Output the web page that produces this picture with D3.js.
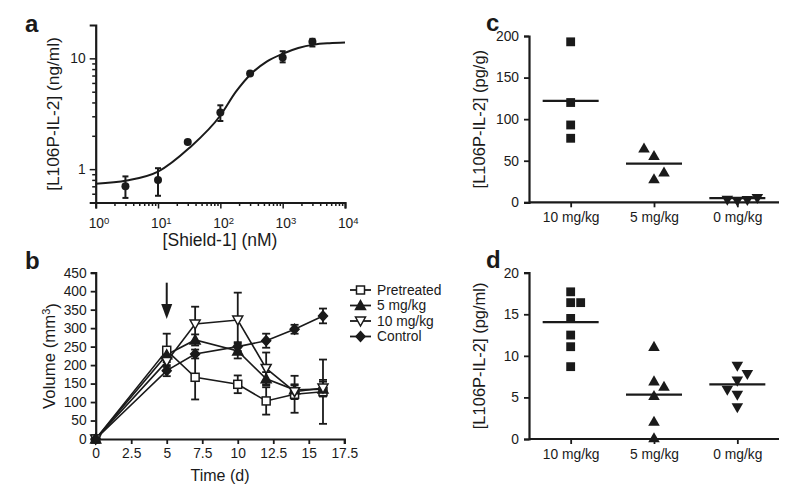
<!DOCTYPE html>
<html><head><meta charset="utf-8">
<script src="https://cdn.jsdelivr.net/npm/d3@7"></script>
<style>
body{margin:0;background:#fff}
text{font-family:"Liberation Sans",Arial,Helvetica,sans-serif;fill:#1a1a1a}
</style>
</head><body><svg id="chart" width="800" height="496"></svg>
<script>
// ---------- Panel a data ----------
const shieldDose = [3, 10, 30, 100, 300, 1000, 3000];
const il2Mean = [0.70, 0.80, 1.76, 3.24, 7.3, 10.2, 14.1];
const il2Low  = [0.55, 0.575, 1.70, 2.72, 7.1, 9.2, 12.8];
const il2High = [0.86, 1.02, 1.82, 3.77, 7.5, 11.6, 15.0];
const fitDose  = [1, 3.16, 10, 31.6, 100, 178, 316, 562, 1000, 1778, 3162, 5623, 10000];
const fitValue = [0.74, 0.79, 0.95, 1.55, 3.05, 5.0, 7.3, 9.4, 11.0, 12.4, 13.3, 13.7, 13.9];
const aXTickValues = [1, 10, 100, 1000, 10000];
const aXTickExp = ["0", "1", "2", "3", "4"];
const aYTickValues = [1, 10];
const aYTickLabels = ["1", "10"];

// ---------- Panel b data ----------
const days = [0, 5, 7, 10, 12, 14, 16];
const seriesNames = ["Pretreated", "5 mg/kg", "10 mg/kg", "Control"];
const pretreated    = [0, 240, 167, 148, 103, 121, 128];
const pretreatedErr = [0, 45, 60, 24, 37, 50, 87];
const mg5           = [0, 228, 268, 238, 163, 133, 135];
const mg5Err        = [0, 20, 15, 20, 18, 12, 20];
const mg10          = [0, 210, 311, 322, 191, 128, 138];
const mg10Err       = [0, 25, 47, 74, 43, 20, 22];
const control       = [0, 185, 230, 250, 266, 297, 333];
const controlErr    = [0, 15, 12, 12, 19, 12, 20];
const bXTicks = [0, 2.5, 5, 7.5, 10, 12.5, 15, 17.5];
const bYTicks = [0, 50, 100, 150, 200, 250, 300, 350, 400, 450];
const arrowDay = 5, arrowFrom = 423, arrowTo = 325;

// ---------- Panel c data ----------
const doseGroups = ["10 mg/kg", "5 mg/kg", "0 mg/kg"];
const tissue10 = [193, 120, 93, 77];
const tissue10Col = [0, 0, 0, 0];
const tissue5 = [64, 55, 35, 27];
const tissue5Col = [-1, 0, 1, 0];
const tissue0 = [4.0, 2.8, 3.6, 6.0];
const tissue0Col = [-1, 0, 1, 2];
const tissueMedian = [122, 46.5, 5];
const cYTicks = [0, 50, 100, 150, 200];

// ---------- Panel d data ----------
const serum10 = [17.7, 16.4, 16.4, 14.5, 12.5, 11.1, 8.7];
const serum10Col = [0, 0, 1, 0, 0, 0, 0];
const serum5 = [11.0, 6.85, 6.2, 5.1, 2.0, 0.0];
const serum5Col = [0, 0, 1, 0, 0, 0];
const serum0 = [8.9, 7.9, 7.1, 6.0, 5.4, 3.9];
const serum0Col = [0, 1, 0, -1, 0, 0];
const serumMedian = [14.05, 5.33, 6.57];
const dYTicks = [0, 5, 10, 15, 20];

// ---------- helpers ----------
const svg = d3.select("#chart");
const INK = "#1a1a1a";
const TICK_FS = 13.8, TITLE_FS = 16.5;

function styleAxis(g, tickW) {
  g.select(".domain").attr("stroke", INK).attr("stroke-width", 2.2);
  g.selectAll(".tick line").attr("stroke", INK).attr("stroke-width", tickW || 1.8);
  g.selectAll(".tick text").attr("fill", INK).style("font-size", TICK_FS + "px")
    .style("font-family", '"Liberation Sans",Arial,sans-serif');
}
function letter(t, x, y) {
  svg.append("text").attr("x", x).attr("y", y).text(t)
    .style("font-size", "24px").style("font-weight", "bold");
}
function yTitle(t, x, y, fs) {
  return svg.append("text").attr("transform", `translate(${x},${y}) rotate(-90)`)
    .attr("text-anchor", "middle").style("font-size", (fs || TITLE_FS) + "px").text(t);
}
function xTitle(t, x, y, fs) {
  return svg.append("text").attr("x", x).attr("y", y)
    .attr("text-anchor", "middle").style("font-size", (fs || TITLE_FS) + "px").text(t);
}

// ================= Panel a =================
{
  const x = d3.scaleLog().domain([1, 1e4]).range([95.7, 345]);
  const y = d3.scaleLog().domain([0.5, 20]).range([202.5, 25]);
  const xMinor = [];
  for (let e = 0; e < 4; e++) for (let k = 2; k <= 9; k++) xMinor.push(k * Math.pow(10, e));
  const yMinor = [0.6, 0.7, 0.8, 0.9, 2, 3, 4, 5, 6, 7, 8, 9];

  const gx = svg.append("g").attr("transform", `translate(0,${y(0.5)})`)
    .call(d3.axisBottom(x).tickValues(aXTickValues.concat(xMinor)).tickSizeOuter(0)
      .tickSize(6).tickPadding(5).tickFormat(() => ""));
  styleAxis(gx, 1.5);
  gx.selectAll(".tick").filter(d => !aXTickValues.includes(d)).select("line").attr("y2", 3.5);
  gx.selectAll(".tick").filter(d => aXTickValues.includes(d)).select("text").each(function (d) {
    const t = d3.select(this);
    const i = aXTickValues.indexOf(d);
    t.text(null).attr("dy", "1.05em").attr("dx", "0.2em");
    t.append("tspan").text("10");
    t.append("tspan").attr("dy", "-0.45em").style("font-size", "9.5px").text(aXTickExp[i]);
  });

  const gy = svg.append("g").attr("transform", `translate(${x(1)},0)`)
    .call(d3.axisLeft(y).tickValues(aYTickValues.concat(yMinor)).tickSizeOuter(0)
      .tickSize(6).tickPadding(4)
      .tickFormat(d => aYTickValues.includes(d) ? aYTickLabels[aYTickValues.indexOf(d)] : ""));
  styleAxis(gy, 1.5);
  gy.selectAll(".tick").filter(d => !aYTickValues.includes(d)).select("line").attr("x2", -3.5);

  const fit = fitDose.map((d, i) => [d, fitValue[i]]);
  svg.append("path").datum(fit)
    .attr("d", d3.line().x(d => x(d[0])).y(d => y(d[1])).curve(d3.curveMonotoneX))
    .attr("fill", "none").attr("stroke", INK).attr("stroke-width", 2);

  const pts = shieldDose.map((d, i) => ({d, m: il2Mean[i], lo: il2Low[i], hi: il2High[i]}));
  const eb = svg.append("g").attr("stroke", INK).attr("stroke-width", 2);
  pts.forEach(p => {
    eb.append("line").attr("x1", x(p.d)).attr("x2", x(p.d)).attr("y1", y(p.lo)).attr("y2", y(p.hi));
    [p.lo, p.hi].forEach(v => eb.append("line").attr("x1", x(p.d) - 3).attr("x2", x(p.d) + 3)
      .attr("y1", y(v)).attr("y2", y(v)));
  });
  svg.append("g").selectAll("circle").data(pts).join("circle")
    .attr("cx", p => x(p.d)).attr("cy", p => y(p.m)).attr("r", 4).attr("fill", INK);

  letter("a", 25, 32);
  xTitle("[Shield-1] (nM)", 220, 246, 17.5);
  yTitle("[L106P-IL-2] (ng/ml)", 59, 114, 17.3);
}

// ================= Panel b =================
{
  const x = d3.scaleLinear().domain([0, 17.5]).range([95.7, 344.3]);
  const y = d3.scaleLinear().domain([0, 450]).range([439, 272.7]);

  const gx = svg.append("g").attr("transform", `translate(0,${y(0)})`)
    .call(d3.axisBottom(x).tickValues(bXTicks).tickSizeOuter(0).tickSize(5).tickPadding(4)
      .tickFormat(d3.format("~g")));
  styleAxis(gx);
  const gy = svg.append("g").attr("transform", `translate(${x(0)},0)`)
    .call(d3.axisLeft(y).tickValues(bYTicks).tickSizeOuter(0).tickSize(5).tickPadding(4));
  styleAxis(gy);

  const series = [
    {name: seriesNames[0], v: pretreated, e: pretreatedErr, sym: "square", open: true},
    {name: seriesNames[1], v: mg5, e: mg5Err, sym: "triUp", open: false},
    {name: seriesNames[2], v: mg10, e: mg10Err, sym: "triDown", open: true},
    {name: seriesNames[3], v: control, e: controlErr, sym: "diamond", open: false}
  ];
  function marker(g, s, cx, cy) {
    let p;
    if (s.sym === "square") p = g.append("rect").attr("x", cx - 4).attr("y", cy - 4).attr("width", 8).attr("height", 8);
    else if (s.sym === "triUp") p = g.append("path").attr("d", `M${cx},${cy - 5}L${cx + 5},${cy + 4}L${cx - 5},${cy + 4}Z`);
    else if (s.sym === "triDown") p = g.append("path").attr("d", `M${cx - 5},${cy - 4}L${cx + 5},${cy - 4}L${cx},${cy + 5}Z`);
    else p = g.append("path").attr("d", `M${cx},${cy - 5}L${cx + 4.5},${cy}L${cx},${cy + 5}L${cx - 4.5},${cy}Z`);
    p.attr("fill", s.open ? "#fff" : INK).attr("stroke", INK).attr("stroke-width", 1.5);
  }
  const line = d3.line().x(d => x(d[0])).y(d => y(d[1]));
  series.forEach(s => {
    svg.append("path").datum(days.map((d, i) => [d, s.v[i]])).attr("d", line)
      .attr("fill", "none").attr("stroke", INK).attr("stroke-width", 1.6);
  });
  series.forEach(s => {
    const g = svg.append("g").attr("stroke", INK).attr("stroke-width", 1.8);
    days.forEach((d, i) => {
      if (!s.e[i]) return;
      const cx = x(d), lo = y(s.v[i] - s.e[i]), hi = y(s.v[i] + s.e[i]);
      g.append("line").attr("x1", cx).attr("x2", cx).attr("y1", lo).attr("y2", hi);
      [lo, hi].forEach(yy => g.append("line").attr("x1", cx - 4).attr("x2", cx + 4).attr("y1", yy).attr("y2", yy));
    });
  });
  series.forEach(s => {
    const g = svg.append("g");
    days.forEach((d, i) => marker(g, s, x(d), y(s.v[i])));
  });

  // arrow
  const ax = x(arrowDay);
  svg.append("line").attr("x1", ax).attr("x2", ax).attr("y1", y(arrowFrom)).attr("y2", y(arrowTo) - 10)
    .attr("stroke", INK).attr("stroke-width", 2);
  svg.append("path").attr("d", `M${ax - 5.5},${y(arrowTo) - 15}L${ax + 5.5},${y(arrowTo) - 15}L${ax},${y(arrowTo)}Z`)
    .attr("fill", INK);

  // legend
  const lg = svg.append("g");
  series.forEach((s, i) => {
    const ly = 290 + i * 15.5;
    lg.append("line").attr("x1", 350).attr("x2", 371).attr("y1", ly).attr("y2", ly)
      .attr("stroke", INK).attr("stroke-width", 1.8);
    marker(lg, s, 360.5, ly);
    lg.append("text").attr("x", 377).attr("y", ly).attr("dy", "0.36em")
      .style("font-size", "13.8px").text(s.name);
  });

  letter("b", 25, 269);
  xTitle("Time (d)", 220, 481, 16);
  const vt = yTitle("", 55, 356, 16.8);
  vt.append("tspan").text("Volume (mm");
  vt.append("tspan").attr("dy", "-0.45em").style("font-size", "11px").text("3");
  vt.append("tspan").attr("dy", "0.45em").text(")");
}

// ================= Panels c & d =================
function dotPanel(cfg) {
  const x = d3.scalePoint().domain(doseGroups).range([529, 779]).padding(0.5);
  const y = d3.scaleLinear().domain(cfg.domain).range(cfg.range);
  const gx = svg.append("g").attr("transform", `translate(0,${cfg.range[0]})`)
    .call(d3.axisBottom(x).tickSizeOuter(0).tickSize(5).tickPadding(5));
  styleAxis(gx);
  gx.select(".domain").attr("d", `M529,0H779`);
  const gy = svg.append("g").attr("transform", `translate(529,0)`)
    .call(d3.axisLeft(y).tickValues(cfg.ticks).tickSizeOuter(0).tickSize(5).tickPadding(5));
  styleAxis(gy);

  const step = 10;
  const syms = [d3.symbolSquare, d3.symbolTriangle, d3.symbolTriangle];
  const sizes = [78, 58, 58];
  cfg.groups.forEach((vals, gi) => {
    const cols = cfg.cols[gi];
    const cx0 = x(doseGroups[gi]);
    svg.append("g").selectAll("path").data(vals).join("path")
      .attr("d", d3.symbol().type(syms[gi]).size(sizes[gi]))
      .attr("transform", (v, i) => `translate(${cx0 + cols[i] * step},${y(v)})` + (gi === 2 ? " rotate(180)" : ""))
      .attr("fill", INK);
    svg.append("line").attr("x1", cx0 - 28).attr("x2", cx0 + 28)
      .attr("y1", y(cfg.median[gi])).attr("y2", y(cfg.median[gi]))
      .attr("stroke", INK).attr("stroke-width", 2.2);
  });
  letter(cfg.letter, 486, cfg.letterY);
  yTitle(cfg.title, 485, (cfg.range[0] + cfg.range[1]) / 2, 16.5);
}
dotPanel({
  domain: [0, 200], range: [202.3, 36], ticks: cYTicks,
  groups: [tissue10, tissue5, tissue0], cols: [tissue10Col, tissue5Col, tissue0Col],
  median: tissueMedian, letter: "c", letterY: 31, title: "[L106P-IL-2] (pg/g)"
});
dotPanel({
  domain: [0, 20], range: [439, 272.7], ticks: dYTicks,
  groups: [serum10, serum5, serum0], cols: [serum10Col, serum5Col, serum0Col],
  median: serumMedian, letter: "d", letterY: 268, title: "[L106P-IL-2] (pg/ml)"
});
</script>
</body></html>
